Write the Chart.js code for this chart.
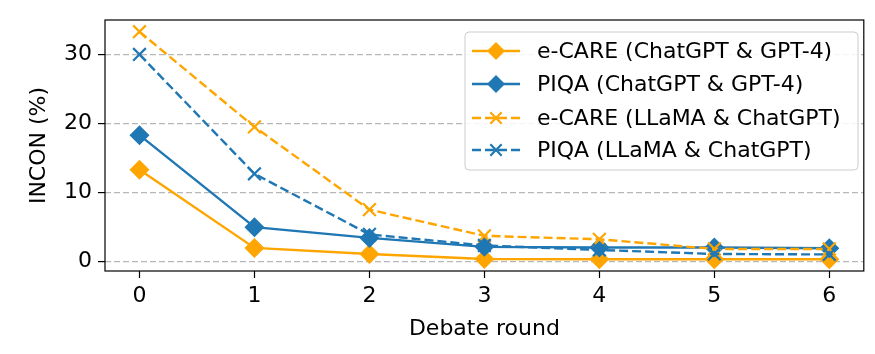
<!DOCTYPE html>
<html>
<head>
<meta charset="utf-8">
<script src="https://cdn.jsdelivr.net/npm/chart.js@4.4.0/dist/chart.umd.min.js"></script>
<style>
  html, body { margin: 0; padding: 0; background: #fff; }
  #wrap { width: 875px; height: 354px; position: relative; }
</style>
</head>
<body>
<div id="wrap"><canvas id="chart"></canvas></div>
<script>
// debate rounds
const rounds = [0, 1, 2, 3, 4, 5, 6];
const yTicks = [0, 10, 20, 30];

// INCON (%) per round
const ecareGpt4 = [13.3, 1.95, 1.07, 0.35, 0.3, 0.3, 0.3];
const piqaGpt4 = [18.3, 4.95, 3.4, 2.1, 2.0, 2.0, 1.9];
const ecareLlama = [33.3, 19.5, 7.5, 3.7, 3.2, 1.8, 1.8];
const piqaLlama = [30.0, 12.7, 3.9, 2.3, 1.65, 1.07, 1.0];

const labels = [
    'e-CARE (ChatGPT & GPT-4)',
    'PIQA (ChatGPT & GPT-4)',
    'e-CARE (LLaMA & ChatGPT)',
    'PIQA (LLaMA & ChatGPT)'
];

const ORANGE = '#ffa500';
const BLUE = '#1f77b4';
const FONT = "'DejaVu Sans', sans-serif";
const FSIZE = 22;

function pts(vals) {
    return rounds.map((r, i) => ({ x: r, y: vals[i] }));
}

function makeSet(label, vals, color, dashed, order) {
    return {
        label: label,
        data: pts(vals),
        borderColor: color,
        backgroundColor: color,
        borderWidth: 2.4,
        borderDash: dashed ? [9, 4] : [],
        pointStyle: dashed ? 'crossRot' : 'rectRot',
        pointRadius: dashed ? 9 : 10,
        pointBorderWidth: dashed ? 2.2 : 0,
        pointBackgroundColor: color,
        pointBorderColor: color,
        tension: 0,
        fill: false,
        order: order
    };
}

// matplotlib-like frame and legend
const framePlugin = {
    id: 'frame',
    afterDraw(chart) {
        const ctx = chart.ctx;
        const a = chart.chartArea;
        ctx.save();
        ctx.strokeStyle = '#000';
        ctx.lineWidth = 1.2;
        ctx.strokeRect(a.left, a.top, a.right - a.left, a.bottom - a.top);

        // legend box
        const bx = 465, by = 32, bw = 393, bh = 138;
        ctx.fillStyle = 'rgba(255,255,255,0.85)';
        ctx.strokeStyle = '#cccccc';
        ctx.lineWidth = 1;
        ctx.beginPath();
        ctx.roundRect(bx, by, bw, bh, 4);
        ctx.fill();
        ctx.stroke();

        const sets = chart.data.datasets;
        const rowY = [51, 84, 118, 150];
        sets.forEach((ds, i) => {
            const y = rowY[i];
            const dashed = ds.pointStyle === 'crossRot';
            ctx.strokeStyle = ds.borderColor;
            ctx.fillStyle = ds.borderColor;
            ctx.lineWidth = 2.4;
            ctx.setLineDash(dashed ? [9, 4] : []);
            ctx.beginPath();
            ctx.moveTo(472, y);
            ctx.lineTo(520, y);
            ctx.stroke();
            ctx.setLineDash([]);
            if (!dashed) {
                Chart.helpers.drawPoint(ctx, { pointStyle: 'rectRot', radius: 9, rotation: 0, borderWidth: 0 }, 496, y);
            } else {
                ctx.lineWidth = 2.2;
                Chart.helpers.drawPoint(ctx, { pointStyle: 'crossRot', radius: 8, rotation: 0, borderWidth: 2.2 }, 496, y);
            }
            ctx.fillStyle = '#000';
            ctx.font = FSIZE + 'px ' + FONT;
            ctx.textBaseline = 'middle';
            ctx.textAlign = 'left';
            ctx.fillText(ds.label, 537, y + 1);
        });
        ctx.restore();
    }
};

new Chart(document.getElementById('chart'), {
    type: 'line',
    data: {
        datasets: [
            makeSet(labels[0], ecareGpt4, ORANGE, false, 3),
            makeSet(labels[1], piqaGpt4, BLUE, false, 2),
            makeSet(labels[2], ecareLlama, ORANGE, true, 1),
            makeSet(labels[3], piqaLlama, BLUE, true, 0)
        ]
    },
    options: {
        responsive: true,
        maintainAspectRatio: false,
        animation: false,
        layout: { padding: { left: 0, right: 9, top: 20, bottom: 0 } },
        plugins: {
            legend: { display: false },
            tooltip: { enabled: false }
        },
        scales: {
            x: {
                type: 'linear',
                min: -0.3,
                max: 6.3,
                afterBuildTicks: (s) => { s.ticks = rounds.map(v => ({ value: v })); },
                afterFit: (s) => { s.height = 83; },
                grid: {
                    drawOnChartArea: false,
                    drawTicks: true,
                    tickLength: 7,
                    tickColor: '#000',
                    tickWidth: 1.2
                },
                border: { display: false },
                ticks: {
                    color: '#000',
                    padding: 5,
                    font: { family: FONT, size: FSIZE }
                },
                title: {
                    display: true,
                    text: 'Debate round',
                    color: '#000',
                    padding: { top: 2, bottom: 12 },
                    font: { family: FONT, size: FSIZE }
                }
            },
            y: {
                min: -1.4,
                max: 35,
                afterBuildTicks: (s) => { s.ticks = yTicks.map(v => ({ value: v })); },
                afterFit: (s) => { s.width = 105; },
                grid: {
                    color: '#b8b8b8',
                    lineWidth: 1.2,
                    drawTicks: true,
                    tickLength: 7,
                    tickColor: '#000',
                    tickWidth: 1.2,
                    tickBorderDash: []
                },
                border: { display: false, dash: [6, 3] },
                ticks: {
                    color: '#000',
                    padding: 6,
                    font: { family: FONT, size: FSIZE }
                },
                title: {
                    display: true,
                    text: 'INCON (%)',
                    color: '#000',
                    padding: { top: 26, bottom: 4 },
                    font: { family: FONT, size: FSIZE }
                }
            }
        }
    },
    plugins: [framePlugin]
});
</script>
</body>
</html>
